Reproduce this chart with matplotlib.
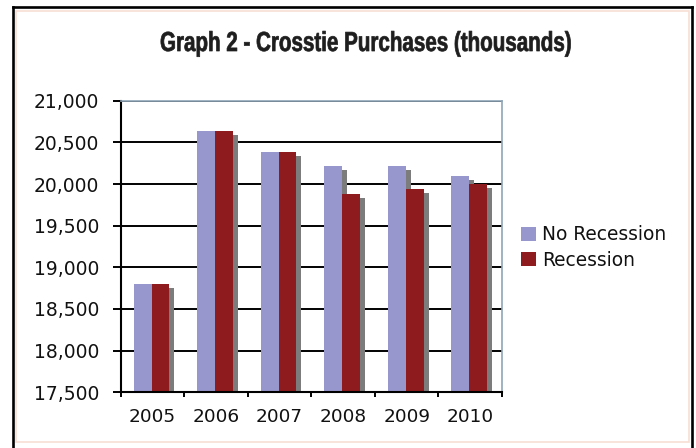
import matplotlib
matplotlib.use("Agg")
import matplotlib.pyplot as plt
import matplotlib.patheffects as pe
from matplotlib.lines import Line2D
from matplotlib.patches import Rectangle
from matplotlib.ticker import FuncFormatter
from matplotlib.transforms import Affine2D
from matplotlib import font_manager

years = ["2005", "2006", "2007", "2008", "2009", "2010"]
no_recession = [18800, 20640, 20390, 20215, 20215, 20100]
recession = [18800, 20640, 20390, 19880, 19945, 19995]
series_names = ["No Recession", "Recession"]
yticks = [17500, 18000, 18500, 19000, 19500, 20000, 20500, 21000]
title = "Graph 2 - Crosstie Purchases (thousands)"

W, H = 696, 448
fig = plt.figure(figsize=(W / 100, H / 100), dpi=100)
fig.patch.set_facecolor("white")

ax = fig.add_axes([120.7 / W, 1 - 392.3 / H, (502 - 120.7) / W, (392.3 - 100.7) / H])

blue = "#9797CD"
red = "#8E1B1D"
shadow = "#7c7c7c"
shadow_fx = [pe.SimplePatchShadow(offset=(3.6, -2.9), shadow_rgbFace=shadow, alpha=1.0), pe.Normal()]

x = list(range(len(years)))
bw = 0.28
b1 = ax.bar([i - 0.155 for i in x], [v - yticks[0] for v in no_recession], bw,
            bottom=yticks[0], color=blue, label=series_names[0], zorder=2)
b2 = ax.bar([i + 0.125 for i in x], [v - yticks[0] for v in recession], bw,
            bottom=yticks[0], color=red, label=series_names[1], zorder=2)
for p in list(b1) + list(b2):
    p.set_path_effects(shadow_fx)

ax.set_xlim(-0.5, len(years) - 0.5)
ax.set_ylim(yticks[0], yticks[-1])
ax.set_yticks(yticks)
ax.yaxis.set_major_formatter(FuncFormatter(lambda v, p: f"{int(v):,}"))
ax.set_xticks(x)
ax.set_xticklabels(years)
ax.set_xticks([i - 0.5 for i in range(len(years) + 1)], minor=True)

ax.tick_params(axis="y", which="major", direction="out", length=5.5, width=1.4,
               color="black", pad=10, labelsize=13.5, labelcolor="#111111")
ax.tick_params(axis="x", which="major", length=0, pad=11, labelsize=13.3, labelcolor="#111111")
ax.tick_params(axis="x", which="minor", direction="out", length=3.6, width=1.4, color="black")

ax.grid(axis="y", color="black", linewidth=1.4)
ax.set_axisbelow(True)

ax.spines["left"].set_color("black")
ax.spines["left"].set_linewidth(1.5)
ax.spines["bottom"].set_color("black")
ax.spines["bottom"].set_linewidth(1.5)
ax.spines["top"].set_color("#8fa6b8")
ax.spines["top"].set_linewidth(1.2)
ax.spines["right"].set_color("#8fa6b8")
ax.spines["right"].set_linewidth(1.2)


class Squeeze(pe.AbstractPathEffect):
    """Draw a text path compressed horizontally about display x = cx, slightly emboldened."""
    def __init__(self, sx, cx, stroke=0.5, color="#1e1e1e"):
        super().__init__()
        self.sx = sx
        self.cx = cx
        self.stroke = stroke
        self.color = color

    def draw_path(self, renderer, gc, tpath, affine, rgbFace=None):
        aff = affine + Affine2D().translate(-self.cx, 0).scale(self.sx, 1).translate(self.cx, 0)
        gc0 = renderer.new_gc()
        gc0.copy_properties(gc)
        gc0.set_linewidth(self.stroke)
        gc0.set_foreground(self.color)
        renderer.draw_path(gc0, tpath, aff, rgbFace)
        gc0.restore()


avail = {f.name for f in font_manager.fontManager.ttflist}
title_fams = [f for f in ["Liberation Sans", "Roboto"] if f in avail] + ["DejaVu Sans"]
title_cx = 366.0
title_fs = 19.8
title_txt = fig.text(title_cx / W, 1 - 51 / H, title, ha="center", va="baseline",
                     fontsize=title_fs, fontweight="bold", color="#1e1e1e",
                     family=title_fams)
renderer = fig.canvas.get_renderer()
w = title_txt.get_window_extent(renderer).width
title_txt.set_path_effects([Squeeze(412.0 / w, title_cx)])

leg = fig.legend(handles=[b1, b2], labels=series_names, loc="center left",
                 bbox_to_anchor=(521 / W, 1 - 247.5 / H), frameon=False,
                 fontsize=13.4, handlelength=0.8, handleheight=0.8,
                 handletextpad=0.35, labelspacing=0.35, borderpad=0, borderaxespad=0)
for t in leg.get_texts():
    t.set_color("#111111")
for h in leg.legend_handles:
    h.set_path_effects([])

# light inner frame
fig.add_artist(Rectangle((16 / W, 1 - 442 / H), (689 - 16) / W, (442 - 11) / H,
                         transform=fig.transFigure, fill=False, edgecolor="#f8dfd4", linewidth=1.2))
# black outer frame
lw = 1.9
fig.add_artist(Line2D([12.7 / W, 12.7 / W], [0, 1 - 7.5 / H], color="black", linewidth=lw, transform=fig.transFigure))
fig.add_artist(Line2D([12.7 / W, 691.5 / W], [1 - 7.5 / H, 1 - 7.5 / H], color="black", linewidth=lw, transform=fig.transFigure))
fig.add_artist(Line2D([691.5 / W, 691.5 / W], [0, 1 - 7.5 / H], color="black", linewidth=lw, transform=fig.transFigure))

fig.savefig("out.png", dpi=100)
